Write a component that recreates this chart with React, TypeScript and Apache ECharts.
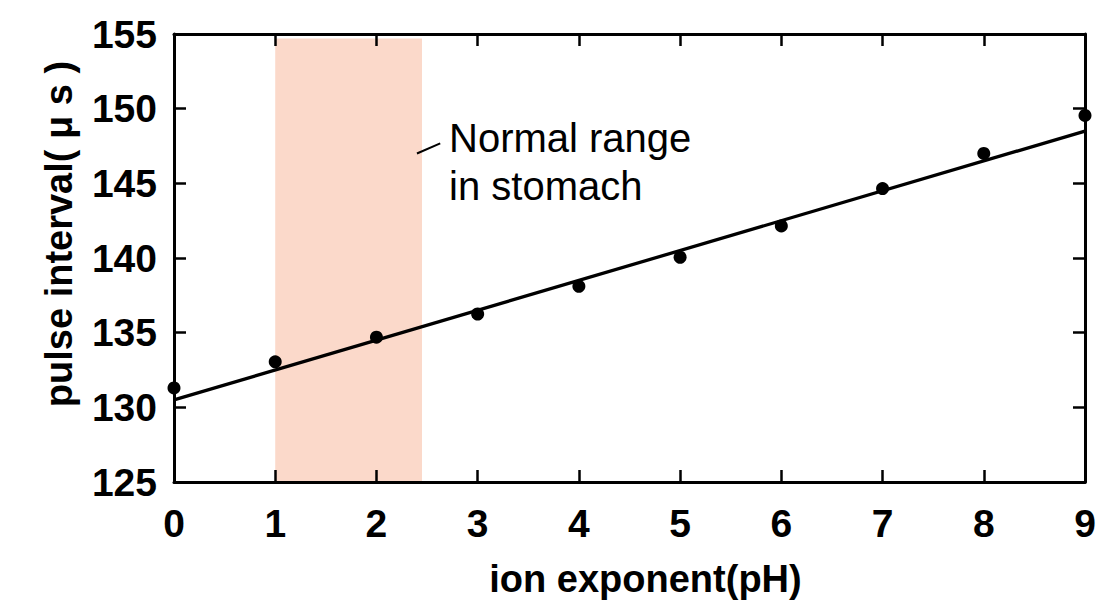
import React, { useEffect, useRef } from "react";
import * as echarts from "echarts";

// ---- data ----
const phValues = [0, 1, 2, 3, 4, 5, 6, 7, 8, 9];
const pulseIntervals = [131.3, 133.05, 134.7, 136.25, 138.1, 140.05, 142.15, 144.65, 147.0, 149.55];
const fitLineX = [0, 9];
const fitLineY = [130.5, 148.5];
const normalRangeX = [1, 2.45];
const normalRangeY = [125, 154.7];
const leaderX = [2.4, 2.63];
const leaderY = [147.0, 147.68];
const annotationAnchor = [2.717, 146.43];
const annotationText = "Normal range\nin stomach";
const xAxisName = "ion exponent(pH)";
const yAxisName = "pulse interval( μ s )";
const xRange = [0, 9];
const yRange = [125, 155];
const xStep = 1;
const yStep = 5;

const FONT = "'Liberation Sans', Arial, Helvetica, sans-serif";

const mkLine = () => ({ show: true, onZero: false, lineStyle: { color: "#000000", width: 3, opacity: 1 } });
const mkTick = () => ({ show: true, inside: true, length: 12, interval: 0, lineStyle: { color: "#000000", width: 2.5, opacity: 1 } });

export default function App() {
  const ref = useRef<HTMLDivElement>(null);

  useEffect(() => {
    if (!ref.current) return;
    const chart = echarts.init(ref.current, undefined, { renderer: "svg" });

    chart.setOption({
      animation: false,
      backgroundColor: "#ffffff",
      grid: { left: 174, right: 33, top: 34, bottom: 132, containLabel: false },
      xAxis: [
        {
          type: "value",
          min: xRange[0],
          max: xRange[1],
          interval: xStep,
          position: "bottom",
          z: 10,
          axisLine: mkLine(),
          axisTick: mkTick(),
          splitLine: { show: false },
          axisLabel: { color: "#000000", fontSize: 39, fontWeight: "bold", fontFamily: FONT, margin: 22 },
          name: xAxisName,
          nameLocation: "middle",
          nameGap: 78,
          nameTextStyle: { color: "#000000", fontSize: 38, fontWeight: "bold", fontFamily: FONT, padding: [0, 0, 0, 32] },
        },
        {
          type: "value",
          min: xRange[0],
          max: xRange[1],
          interval: xStep,
          position: "top",
          z: 10,
          axisLine: mkLine(),
          axisTick: mkTick(),
          splitLine: { show: false },
          axisLabel: { show: false },
        },
      ],
      yAxis: [
        {
          type: "value",
          min: yRange[0],
          max: yRange[1],
          interval: yStep,
          position: "left",
          z: 10,
          axisLine: mkLine(),
          axisTick: mkTick(),
          splitLine: { show: false },
          axisLabel: { color: "#000000", fontSize: 39, fontWeight: "bold", fontFamily: FONT, margin: 17 },
          name: yAxisName,
          nameLocation: "middle",
          nameGap: 96,
          nameTextStyle: { color: "#000000", fontSize: 38, fontWeight: "bold", fontFamily: FONT, padding: [0, 0, 0, 48] },
        },
        {
          type: "value",
          min: yRange[0],
          max: yRange[1],
          interval: yStep,
          position: "right",
          z: 10,
          axisLine: mkLine(),
          axisTick: mkTick(),
          splitLine: { show: false },
          axisLabel: { show: false },
        },
      ],
      series: [
        {
          type: "line",
          name: "range",
          data: [],
          silent: true,
          markArea: {
            silent: true,
            itemStyle: { color: "#FBD9CA", opacity: 1 },
            data: [[{ coord: [normalRangeX[0], normalRangeY[0]] }, { coord: [normalRangeX[1], normalRangeY[1]] }]],
          },
          z: 1,
        },
        {
          type: "line",
          name: "fit",
          data: fitLineX.map((x, i) => [x, fitLineY[i]]),
          symbol: "none",
          lineStyle: { color: "#000000", width: 3.3, opacity: 1 },
          z: 3,
        },
        {
          type: "scatter",
          name: "measured",
          data: phValues.map((x, i) => [x, pulseIntervals[i]]),
          symbol: "circle",
          symbolSize: 13,
          itemStyle: { color: "#000000", opacity: 1 },
          clip: false,
          z: 4,
        },
        {
          type: "line",
          name: "leader",
          data: leaderX.map((x, i) => [x, leaderY[i]]),
          symbol: "none",
          lineStyle: { color: "#000000", width: 2, opacity: 1 },
          z: 3,
        },
        {
          type: "scatter",
          name: "annotation",
          data: [annotationAnchor],
          symbolSize: 0,
          itemStyle: { color: "#000000", opacity: 0 },
          label: {
            show: true,
            position: "right",
            distance: 0,
            formatter: annotationText,
            color: "#000000",
            opacity: 1,
            fontSize: 40,
            lineHeight: 48,
            fontFamily: FONT,
            align: "left",
          },
          z: 5,
        },
      ],
    });

    return () => chart.dispose();
  }, []);

  return (
    <div
      ref={ref}
      style={{ position: "fixed", left: 0, top: 0, width: 1118, height: 614, background: "#fff" }}
    />
  );
}
